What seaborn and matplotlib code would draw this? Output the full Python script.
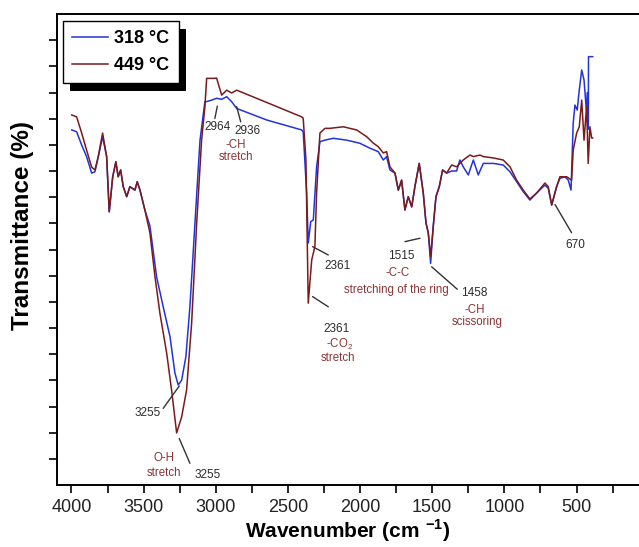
import pandas as pd
import matplotlib.pyplot as plt
import seaborn as sns
from matplotlib.lines import Line2D
from matplotlib.patches import Rectangle
from matplotlib.ticker import MultipleLocator
from matplotlib.transforms import IdentityTransform

# --- FTIR spectra (wavenumber, transmittance in tick units) ---
wn_449 = [3998, 3964, 3929, 3895, 3860, 3837, 3814, 3784, 3756, 3738, 3714, 3692, 3676,
          3659, 3641, 3617, 3595, 3560, 3544, 3525, 3491, 3456, 3421, 3387, 3340, 3306,
          3271, 3236, 3202, 3167, 3132, 3098, 3075, 3063, 3017, 2994, 2959, 2924, 2890,
          2855, 2647, 2405, 2394, 2375, 2359, 2335, 2313, 2301, 2278, 2243, 2209, 2116,
          2024, 1954, 1909, 1874, 1839, 1816, 1793, 1758, 1735, 1712, 1689, 1666, 1642,
          1620, 1590, 1562, 1543, 1527, 1511, 1493, 1474, 1451, 1428, 1400, 1365, 1331,
          1285, 1238, 1215, 1169, 1146, 1077, 1008, 961, 915, 869, 823, 776, 719, 696,
          672, 638, 615, 568, 534, 523, 499, 481, 464, 448, 430, 419, 407, 395, 388]
t_449 = [14.14, 14.07, 13.45, 12.80, 12.15, 12.04, 12.55, 13.45, 12.55, 10.44, 11.78, 12.35,
         11.78, 12.04, 11.40, 11.02, 11.40, 11.27, 11.59, 11.27, 10.51, 9.63, 7.96, 6.57,
         5.04, 3.63, 1.99, 2.61, 3.63, 6.19, 10.01, 13.18, 14.46, 15.54, 15.54, 15.55, 14.90,
         15.09, 14.98, 15.09, 14.62, 14.07, 14.02, 12.42, 6.95, 8.60, 9.11, 11.16, 13.45,
         13.63, 13.63, 13.69, 13.57, 13.31, 13.07, 12.93, 12.69, 12.74, 12.16, 11.92, 11.27,
         11.65, 10.51, 11.02, 10.63, 11.40, 12.29, 11.16, 10.01, 9.63, 8.72, 9.87, 11.02,
         11.40, 12.04, 11.92, 12.23, 12.16, 12.42, 12.61, 12.55, 12.61, 12.55, 12.50, 12.42,
         12.16, 11.65, 11.27, 10.93, 11.16, 11.54, 11.40, 10.70, 11.40, 11.78, 11.78, 11.65,
         12.80, 13.45, 13.69, 14.71, 13.18, 14.46, 12.29, 13.69, 13.26, 13.26]

wn_318 = [3998, 3964, 3929, 3895, 3860, 3837, 3814, 3784, 3756, 3738, 3714, 3692, 3676,
          3659, 3641, 3617, 3595, 3560, 3544, 3525, 3491, 3456, 3410, 3364, 3317, 3283,
          3260, 3236, 3207, 3179, 3144, 3109, 3075, 3063, 3028, 2994, 2959, 2924, 2890,
          2855, 2647, 2405, 2394, 2370, 2359, 2342, 2324, 2301, 2278, 2243, 2186, 2093,
          2001, 1931, 1874, 1839, 1816, 1793, 1758, 1735, 1712, 1689, 1666, 1642, 1620,
          1590, 1562, 1543, 1527, 1511, 1493, 1474, 1451, 1428, 1400, 1365, 1331, 1308,
          1285, 1250, 1215, 1181, 1146, 1077, 1008, 961, 915, 869, 823, 776, 719, 696,
          672, 638, 615, 580, 557, 538, 523, 511, 495, 481, 464, 448, 430, 424, 418, 417,
          388]
t_318 = [13.57, 13.50, 12.99, 12.55, 11.92, 11.97, 12.55, 13.31, 12.55, 10.44, 11.78, 12.35,
         11.78, 12.04, 11.40, 11.02, 11.40, 11.27, 11.59, 11.27, 10.51, 9.90, 7.96, 6.81,
         5.67, 4.28, 3.82, 4.01, 4.90, 6.81, 10.01, 13.18, 14.65, 14.65, 14.71, 14.78, 14.74,
         14.84, 14.65, 14.39, 13.95, 13.57, 13.50, 11.16, 9.25, 10.06, 10.13, 12.16, 13.12,
         13.18, 13.25, 13.18, 13.06, 12.87, 12.74, 12.42, 12.55, 12.04, 11.92, 11.27, 11.65,
         10.51, 11.02, 10.63, 11.40, 12.29, 11.16, 10.01, 9.63, 8.47, 9.87, 11.02, 11.40,
         12.04, 11.92, 12.00, 12.00, 12.42, 12.16, 11.85, 12.42, 11.85, 12.29, 12.29, 12.23,
         11.97, 11.59, 11.21, 10.89, 11.16, 11.46, 11.34, 10.70, 11.40, 11.72, 11.78, 11.65,
         11.27, 13.82, 14.52, 14.33, 15.09, 15.86, 15.48, 14.20, 15.00, 13.60, 16.37, 16.37]

series_labels = ["318 °C", "449 °C"]
x_ticks = [4000, 3500, 3000, 2500, 2000, 1500, 1000, 500]

df = pd.concat([
    pd.DataFrame({"wavenumber": wn_318, "T": t_318, "sample": series_labels[0]}),
    pd.DataFrame({"wavenumber": wn_449, "T": t_449, "sample": series_labels[1]}),
], ignore_index=True)

plt.rcParams["font.family"] = ["Liberation Sans", "DejaVu Sans"]
plt.rcParams["mathtext.fontset"] = "custom"
plt.rcParams["mathtext.rm"] = "Liberation Sans"
plt.rcParams["mathtext.bf"] = "Liberation Sans:bold"

blue = "#2233dd"
brown = "#7a1a1a"
num_col = "#2b2b2b"
lab_col = "#8a3535"

fig = plt.figure(figsize=(6.39, 5.47), dpi=100)
ax = fig.add_axes([57 / 639, 62 / 547, 582 / 639, 471 / 547])

sns.lineplot(data=df, x="wavenumber", y="T", hue="sample",
             palette={series_labels[0]: blue, series_labels[1]: brown},
             estimator=None, sort=False, linewidth=1.1, ax=ax, legend=False)

# --- axes ---
ax.set_xlim(4100, 67)
ax.set_ylim(0, 18)
ax.set_xticks(x_ticks)
ax.xaxis.set_minor_locator(MultipleLocator(250))
ax.set_yticks(range(1, 18))
ax.set_yticklabels([])
for s in ["top", "bottom", "left"]:
    ax.spines[s].set_linewidth(1.4)
ax.spines["right"].set_visible(False)
ax.tick_params(axis="x", which="both", direction="out", length=6, width=1.2,
               labelsize=13, pad=4, colors="black", labelcolor="#222222")
ax.tick_params(axis="y", direction="out", length=6, width=1.2)
ax.set_xlabel(r"Wavenumber (cm $^{\mathbf{-1}}$)", fontsize=15, fontweight="bold")
ax.set_ylabel("Transmittance (%)", fontsize=17.5, fontweight="bold")
ax.yaxis.set_label_coords(-0.040, 0.55)
ax.xaxis.set_label_coords(0.5, -0.069)

# --- annotations: leader lines and labels ---
leaders = [
    ((2989, 14.48), (3006, 14.01)),
    ((2855, 14.46), (2827, 13.88)),
    ((2329, 9.11), (2220, 8.79)),
    ((2329, 7.20), (2220, 6.81)),
    ((1689, 9.30), (1585, 9.43)),
    ((1504, 8.34), (1326, 7.48)),
    ((649, 10.72), (534, 9.64)),
    ((3253, 3.78), (3364, 2.93)),
    ((3253, 1.78), (3179, 0.83)),
]
for (x1, y1), (x2, y2) in leaders:
    ax.annotate("", xy=(x1, y1), xytext=(x2, y2),
                arrowprops=dict(arrowstyle="-", color="#333333", lw=1.0,
                                shrinkA=0, shrinkB=0))

numbers = [("2964", 2990, 13.70), ("2936", 2777, 13.53), ("2361", 2157, 8.37),
           ("2361", 2160, 5.96), ("1515", 1717, 8.77), ("1458", 1210, 7.32),
           ("670", 511, 9.17), ("3255", 3473, 2.77), ("3255", 3054, 0.40)]
for txt, x, y in numbers:
    ax.text(x, y, txt, color=num_col, fontsize=8.5, ha="center", va="center")

labels = [("-CH", 2860, 13.0), ("stretch", 2860, 12.53),
          ("-CO$_2$", 2139, 5.36), ("stretch", 2153, 4.86),
          ("-C-C", 1740, 8.10), ("stretching of the ring", 1745, 7.47),
          ("-CH", 1205, 6.69), ("scissoring", 1190, 6.23),
          ("O-H", 3359, 1.03), ("stretch", 3359, 0.46)]
for txt, x, y in labels:
    ax.text(x, y, txt, color=lab_col, fontsize=8.3, ha="center", va="center")

# --- legend with solid black drop shadow ---
handles = [Line2D([], [], color=blue, lw=1.1), Line2D([], [], color=brown, lw=1.1)]
leg = ax.legend(handles, series_labels, loc="upper left", bbox_to_anchor=(0.0103, 0.985),
                borderaxespad=0, fancybox=False, framealpha=1, edgecolor="black",
                prop={"weight": "bold", "size": 13}, handlelength=2.0,
                handletextpad=0.35, labelspacing=0.55, borderpad=0.5)
leg.get_frame().set_linewidth(1.0)
fig.canvas.draw()
bb = leg.get_window_extent()
ax.add_patch(Rectangle((bb.x0 + 7, bb.y0 - 8), bb.width, bb.height,
                       transform=IdentityTransform(), facecolor="black",
                       edgecolor="none", zorder=4.9, clip_on=False))

plt.savefig("out.png", dpi=100)
